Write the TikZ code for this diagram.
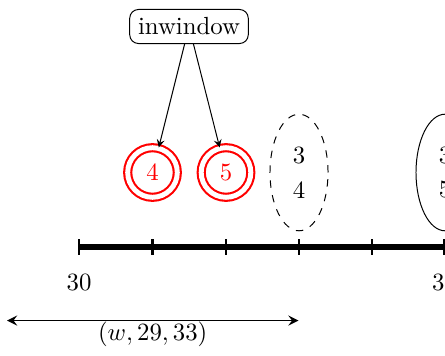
\documentclass[tikz,border=0pt]{standalone}
\usetikzlibrary{shapes.geometric,arrows}
\begin{document}
\begin{tikzpicture}[x=0.4032pt,y=-0.4032pt,>=stealth,
  axisline/.style={line width=2.4pt},
  tickmark/.style={line width=0.9pt},
  win/.style={circle,draw=red,text=red,double,double distance=2pt,line width=0.85pt,minimum size=20pt,inner sep=0pt},
  grp/.style={ellipse,draw,align=center,minimum width=23.4pt,minimum height=47pt,inner sep=0pt},
  lab/.style={draw,rounded corners=3.5pt}]
\useasboundingbox (0,0) rectangle (445,356);
\clip (0,0) rectangle (445,356);
% axis
\coordinate (t0) at (79,247);
\coordinate (t1) at (152.6,247);
\coordinate (t2) at (226,247);
\coordinate (t3) at (299,247);
\coordinate (t4) at (372,247);
\coordinate (t5) at (444.5,247);
\coordinate (tend) at (470,247);
\draw[axisline] (t0) -- (tend);
\foreach \t in {t0,t1,t2,t3,t4,t5}
  \draw[tickmark] ([yshift=3.2pt]\t) -- ([yshift=-3.2pt]\t);
\node (l30) at (79,283) {30};
\node (l35) at (444.5,283) {35};
% items
\node[win] (c4) at (152.5,172.5) {4};
\node[win] (c5) at (226,172.5) {5};
\node[grp,dashed] (g1) at (299,172.5) {3\\[2pt]4};
\node[grp] (g2) at (445,172.5) {3\\[2pt]5};
% label
\node[lab] (iw) at (189,26.5) {inwindow};
\draw[->] (iw) -- (c4);
\draw[->] (iw) -- (c5);
% window arrow
\coordinate (wa) at (7,320.5);
\coordinate (wb) at (298.5,320.5);
\draw[<->,thick] (wa) -- (wb);
\node (wl) at (152.7,334.5) {$(w,29,33)$};
\end{tikzpicture}
\end{document}
